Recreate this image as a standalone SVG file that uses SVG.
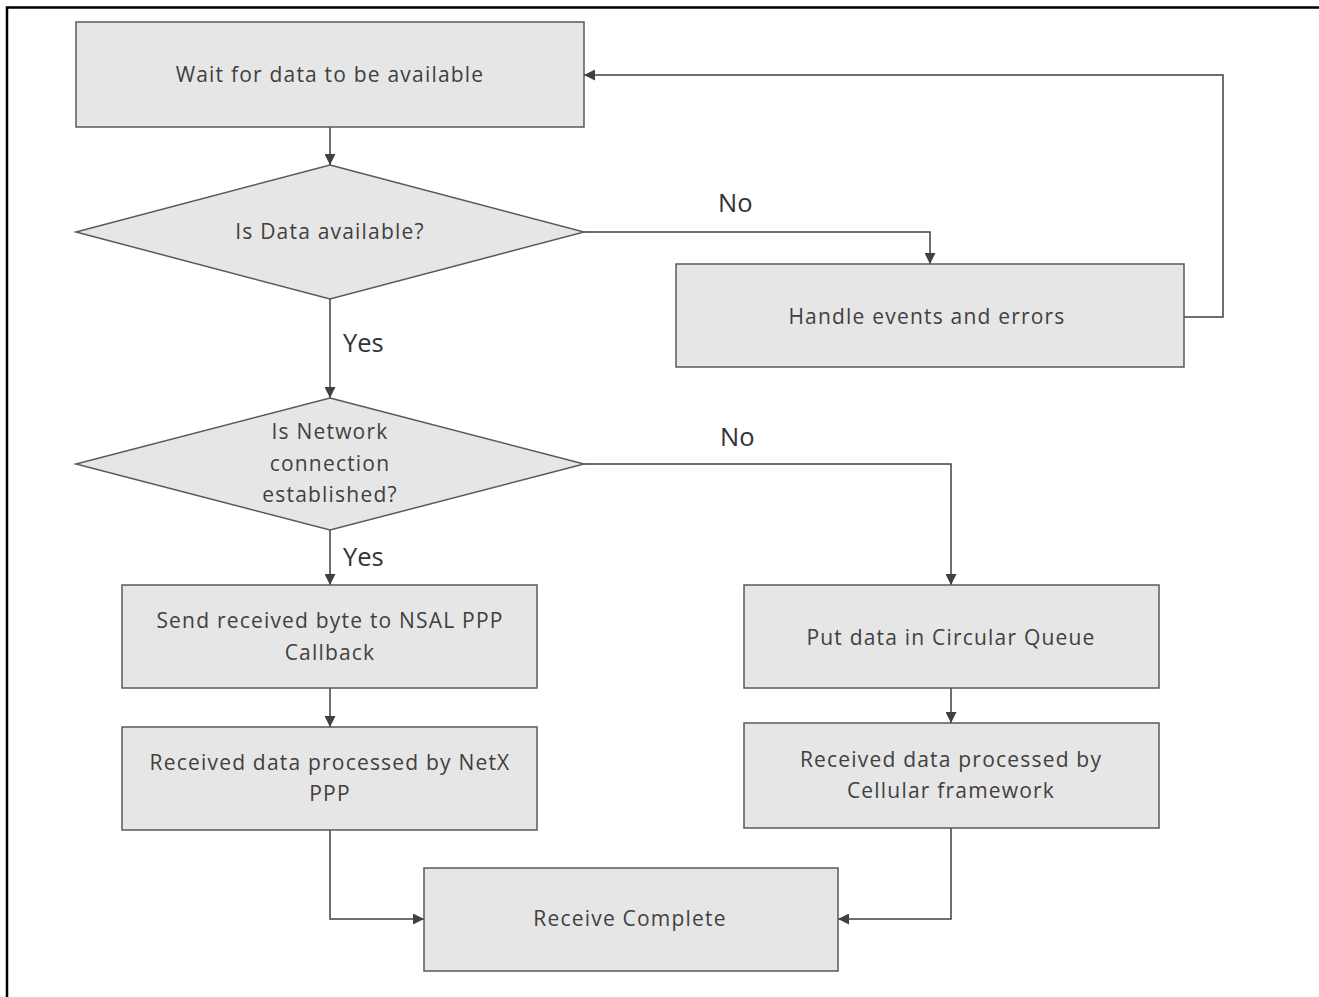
<svg xmlns="http://www.w3.org/2000/svg" width="1319" height="997" viewBox="0 0 1319 997">
  <defs>
    <marker id="arrow" viewBox="0 0 10 10" refX="10" refY="5" markerWidth="11" markerHeight="11" markerUnits="userSpaceOnUse" orient="auto">
      <path d="M0,0 L10,5 L0,10 z" fill="#404040"/>
    </marker>
    <style>
      .shape { fill: #e6e6e6; stroke: #595959; stroke-width: 1.5; }
      .label { font-family: "Open Sans", "Noto Sans", sans-serif; font-size: 21px; letter-spacing: 1.2px; fill: #404040; text-anchor: middle; dominant-baseline: central; }
      .branch { font-family: "Open Sans", "Noto Sans", sans-serif; font-size: 25.5px; fill: #333333; }
      .link { fill: none; stroke: #404040; stroke-width: 1.5; marker-end: url(#arrow); }
      .frame { fill: none; stroke: #000000; stroke-width: 2.5; }
    </style>
  </defs>
  <rect width="1319" height="997" fill="#ffffff"/>
  <path class="frame" d="M7,997 V7.5 H1319"/>

  <g id="connectors">
    <path class="link" d="M330,127 V165"/>
    <path class="link" d="M584,232 H930 V264"/>
    <path class="link" d="M1184,317 H1223 V75 H584"/>
    <path class="link" d="M330,299 V398"/>
    <path class="link" d="M584,464 H951 V585"/>
    <path class="link" d="M330,530 V585"/>
    <path class="link" d="M330,688 V727"/>
    <path class="link" d="M951,688 V723"/>
    <path class="link" d="M330,830 V919 H424"/>
    <path class="link" d="M951,828 V919 H838"/>
    <text class="branch" x="718" y="212">No</text>
    <text class="branch" x="343" y="352">Yes</text>
    <text class="branch" x="720" y="446">No</text>
    <text class="branch" x="343" y="566">Yes</text>
  </g>

  <g id="wait">
    <rect class="shape" x="76" y="22" width="508" height="105"/>
    <text class="label" x="330" y="74">Wait for data to be available</text>
  </g>
  <g id="data-available">
    <polygon class="shape" points="330,165 584,232 330,299 76,232"/>
    <text class="label" x="330" y="231">Is Data available?</text>
  </g>
  <g id="handle-events">
    <rect class="shape" x="676" y="264" width="508" height="103"/>
    <text class="label" x="927" y="316">Handle events and errors</text>
  </g>
  <g id="network-established">
    <polygon class="shape" points="330,398 584,464 330,530 76,464"/>
    <text class="label" x="330" y="431">Is Network</text>
    <text class="label" x="330" y="463">connection</text>
    <text class="label" x="330" y="494">established?</text>
  </g>
  <g id="send-byte">
    <rect class="shape" x="122" y="585" width="415" height="103"/>
    <text class="label" x="330" y="620">Send received byte to NSAL PPP</text>
    <text class="label" x="330" y="652">Callback</text>
  </g>
  <g id="netx-processed">
    <rect class="shape" x="122" y="727" width="415" height="103"/>
    <text class="label" x="330" y="762">Received data processed by NetX</text>
    <text class="label" x="330" y="793">PPP</text>
  </g>
  <g id="circular-queue">
    <rect class="shape" x="744" y="585" width="415" height="103"/>
    <text class="label" x="951" y="637">Put data in Circular Queue</text>
  </g>
  <g id="cellular-processed">
    <rect class="shape" x="744" y="723" width="415" height="105"/>
    <text class="label" x="951" y="759">Received data processed by</text>
    <text class="label" x="951" y="790">Cellular framework</text>
  </g>
  <g id="receive-complete">
    <rect class="shape" x="424" y="868" width="414" height="103"/>
    <text class="label" x="630" y="918">Receive Complete</text>
  </g>
</svg>
